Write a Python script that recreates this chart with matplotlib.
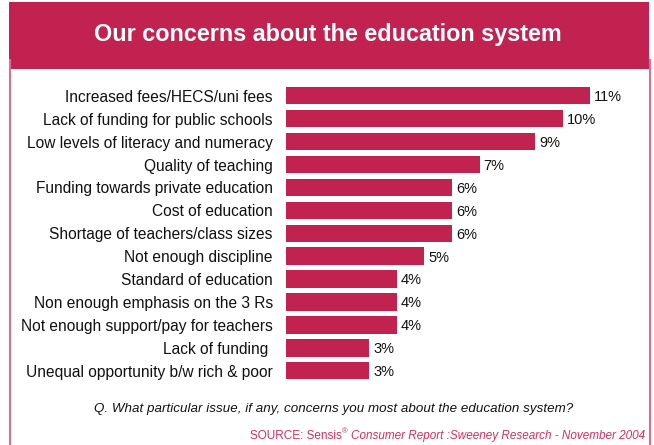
import matplotlib
matplotlib.use("Agg")
import matplotlib.pyplot as plt
from matplotlib.patches import Rectangle
from matplotlib.lines import Line2D

# Survey results (% of respondents)
issues = [
    "Increased fees/HECS/uni fees",
    "Lack of funding for public schools",
    "Low levels of literacy and numeracy",
    "Quality of teaching",
    "Funding towards private education",
    "Cost of education",
    "Shortage of teachers/class sizes",
    "Not enough discipline",
    "Standard of education",
    "Non enough emphasis on the 3 Rs",
    "Not enough support/pay for teachers",
    "Lack of funding ",
    "Unequal opportunity b/w rich & poor",
]
shares = [11, 10, 9, 7, 6, 6, 6, 5, 4, 4, 4, 3, 3]

title = "Our concerns about the education system"
question = "Q. What particular issue, if any, concerns you most about the education system?"

RED = "#C1224F"
EDGE = "#D9708F"
SRC = "#D0305C"
W, H = 654, 445

plt.rcParams['font.family'] = ['Liberation Sans', 'DejaVu Sans']

fig = plt.figure(figsize=(W / 100, H / 100), dpi=100)
fig.patch.set_facecolor("white")

# frame: title band plus thin side rules
fig.patches.append(Rectangle((9 / W, 1 - 69 / H), 640 / W, 67 / H,
                             transform=fig.transFigure, facecolor=RED,
                             edgecolor="none", zorder=0))
for xp in (9.5, 649.5):
    fig.add_artist(Line2D([xp / W, xp / W], [0, 1 - 60 / H],
                          transform=fig.transFigure, color=EDGE, lw=1.5))

fig.text(328 / W, 1 - 34 / H, title, ha="center", va="center",
         color="white", fontsize=16.8, fontweight="bold")

# bar area
left, right = 286, 640
top, bottom = 84.3, 382.2
ax = fig.add_axes([left / W, 1 - bottom / H, (right - left) / W, (bottom - top) / H])
pos = list(range(len(issues)))
ax.barh(pos, shares, height=0.76, color=RED, edgecolor="none")
ax.set_xlim(0, (right - left) / 27.65)
ax.set_ylim(len(issues) - 0.5, -0.5)
ax.set_yticks(pos)
ax.set_yticklabels(issues, fontsize=11.2, color="#111111")
ax.tick_params(axis="y", length=0, pad=9.5)
ax.set_xticks([])
for s in ax.spines.values():
    s.set_visible(False)

for p, v in zip(pos, shares):
    ax.annotate(f"{v}%", (v, p), xytext=(3, -1), textcoords="offset points",
                va="center", ha="left", fontsize=10.5, color="#111111")

fig.text(573 / W, 1 - 409 / H, question, ha="right", va="center",
         fontsize=9.6, style="italic", color="#111111")

# source line: plain, superscript mark, italic remainder
src = fig.text(250 / W, 1 - 436 / H, "SOURCE: Sensis", ha="left", va="center",
               fontsize=8.45, color=SRC)
fig.canvas.draw()
bb = src.get_window_extent()
reg = fig.text(bb.x1 / W + 0.5 / W, 1 - 432 / H, "®", ha="left", va="center",
               fontsize=5.5, color=SRC)
fig.canvas.draw()
bb2 = reg.get_window_extent()
fig.text(bb2.x1 / W + 3 / W, 1 - 436 / H,
         "Consumer Report :Sweeney Research - November 2004",
         ha="left", va="center", fontsize=8.45, style="italic", color=SRC)

fig.savefig("out.png", dpi=100, facecolor="white")
